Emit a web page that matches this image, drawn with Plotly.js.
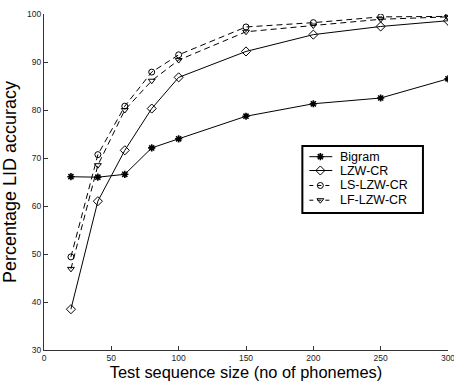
<!DOCTYPE html>
<html>
<head>
<meta charset="utf-8">
<script src="https://cdn.plot.ly/plotly-3.0.1.min.js"></script>
<style>html,body{margin:0;padding:0;background:#fff}#chart{width:454px;height:381px}</style>
</head>
<body>
<div id="chart"></div>
<script>
var seqSize = [20, 40, 60, 80, 100, 150, 200, 250, 300];
var bigram = [66.1, 66.0, 66.6, 72.1, 74.0, 78.7, 81.3, 82.5, 86.5];
var lzwCR = [38.5, 61.0, 71.6, 80.3, 86.8, 92.2, 95.7, 97.4, 98.6];
var lsLzwCR = [49.4, 70.7, 80.8, 87.9, 91.5, 97.3, 98.2, 99.4, 99.5];
var lfLzwCR = [46.9, 68.5, 80.0, 86.1, 90.4, 96.3, 97.6, 98.9, 99.4];
var seriesNames = ["Bigram", "LZW-CR", "LS-LZW-CR", "LF-LZW-CR"];
var xTicks = [0, 50, 100, 150, 200, 250, 300];
var yTicks = [30, 40, 50, 60, 70, 80, 90, 100];

var styles = [
  {sym: 'asterisk-open', size: 6, dash: 'solid', mw: 1.6},
  {sym: 'diamond-open', size: 7, dash: 'solid', mw: 1},
  {sym: 'circle-open', size: 6, dash: '6px,4px', mw: 1},
  {sym: 'triangle-down-open', size: 6, dash: '6px,4px', mw: 1}
];
var seriesY = [bigram, lzwCR, lsLzwCR, lfLzwCR];

var data = [];
seriesY.forEach(function (y, i) {
  var s = styles[i];
  data.push({
    x: seqSize, y: y, name: seriesNames[i], type: 'scatter', mode: 'lines+markers',
    line: {color: '#000', width: 1, dash: s.dash},
    marker: {symbol: s.sym, size: s.size, color: '#000', line: {color: '#000', width: s.mw}},
    showlegend: false
  });
});

// Manual legend (paper-coordinate box, matching the reference's compact legend)
var legX0 = 0.6395, legX1 = 0.938, legY0 = 0.4077, legY1 = 0.607;
var rowY = [0.5753, 0.5342, 0.4896, 0.4458];
var lineX0 = 0.6568, lineX1 = 0.7136, markX = 0.684, textX = 0.7284;

var shapes = [{
  type: 'rect', xref: 'paper', yref: 'paper', x0: legX0, x1: legX1, y0: legY0, y1: legY1,
  line: {color: '#000', width: 2}, fillcolor: '#fff', layer: 'below'
}];
var annotations = [];
seriesNames.forEach(function (n, i) {
  var s = styles[i];
  shapes.push({
    type: 'line', xref: 'paper', yref: 'paper', x0: lineX0, x1: lineX1, y0: rowY[i], y1: rowY[i],
    line: {color: '#000', width: 1, dash: s.dash === 'solid' ? 'solid' : '4px,4px'}, layer: 'below'
  });
  annotations.push({
    xref: 'paper', yref: 'paper', x: textX, y: rowY[i], xanchor: 'left', yanchor: 'middle',
    text: n, showarrow: false, font: {size: 12.5, color: '#000'}
  });
  data.push({
    x: [markX], y: [rowY[i]], xaxis: 'x2', yaxis: 'y2', type: 'scatter', mode: 'markers',
    marker: {symbol: s.sym, size: s.size, color: '#000', line: {color: '#000', width: s.mw}},
    showlegend: false, hoverinfo: 'skip', cliponaxis: false
  });
});

var layout = {
  width: 454, height: 381,
  margin: {l: 44, r: 6, t: 14, b: 31},
  paper_bgcolor: '#fff', plot_bgcolor: '#fff',
  font: {family: 'Liberation Sans, Arial, sans-serif', color: '#000'},
  showlegend: false,
  shapes: shapes,
  annotations: annotations,
  xaxis: {
    range: [0, 300], tickvals: xTicks, ticks: 'inside', ticklen: 4, tickcolor: '#333',
    showgrid: false, zeroline: false, showline: true, linecolor: '#333', linewidth: 1,
    tickfont: {size: 8.5, color: '#222'}, ticklabeloverflow: 'allow',
    title: {text: 'Test sequence size (no of phonemes)', font: {size: 16.4}, standoff: 1}
  },
  yaxis: {
    range: [30, 100], tickvals: yTicks, ticks: 'inside', ticklen: 4, tickcolor: '#333',
    showgrid: false, zeroline: false, showline: true, linecolor: '#333', linewidth: 1,
    tickfont: {size: 8.5, color: '#222'},
    title: {text: 'Percentage LID accuracy', font: {size: 18}, standoff: 6}
  },
  xaxis2: {overlaying: 'x', range: [0, 1], visible: false, fixedrange: true},
  yaxis2: {overlaying: 'y', range: [0, 1], visible: false, fixedrange: true}
};
Plotly.newPlot('chart', data, layout, {displayModeBar: false, staticPlot: true});
</script>
</body>
</html>
